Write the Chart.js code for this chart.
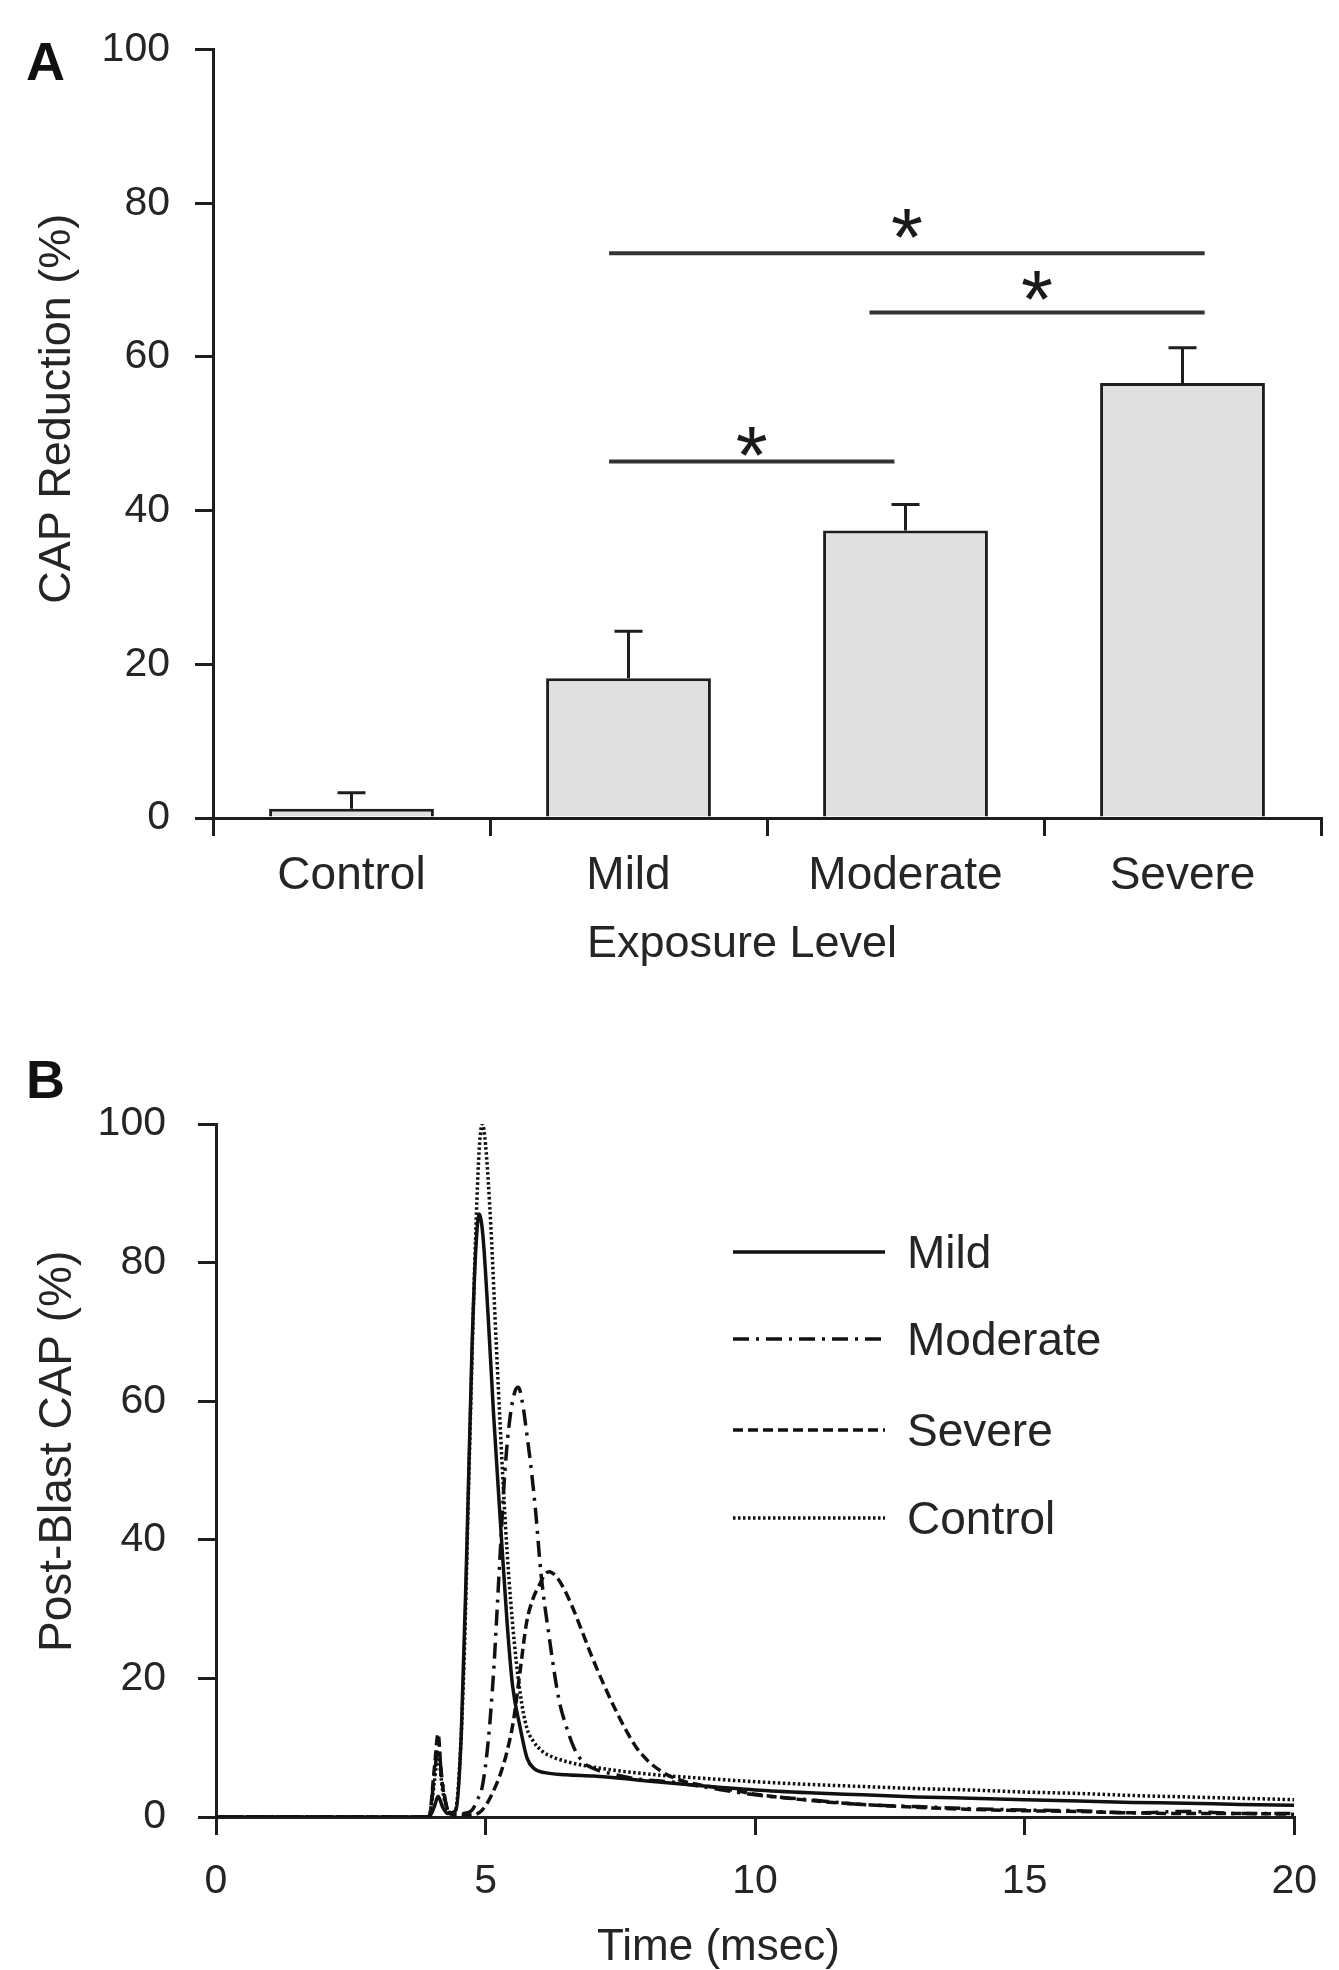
<!DOCTYPE html>
<html>
<head>
<meta charset="utf-8">
<script src="https://cdn.jsdelivr.net/npm/chart.js@4.4.1/dist/chart.umd.min.js"></script>
<style>
  html, body { margin: 0; padding: 0; background: #fff; }
  body { width: 1339px; height: 1970px; position: relative; overflow: hidden; }
  canvas { position: absolute; left: 0; }
  #cA { top: 0; }
  #cB { top: 1000px; }
  .panel { position: absolute; font: bold 54px "Liberation Sans", Arial, sans-serif; color: #111; line-height: 1; }
</style>
</head>
<body>
<div class="panel" style="left:26px; top:34px;">A</div>
<div class="panel" style="left:26px; top:1052px;">B</div>
<canvas id="cA" width="1339" height="1000"></canvas>
<canvas id="cB" width="1339" height="970"></canvas>
<script>
// ---------- Panel A data ----------
const categories = ['Control', 'Mild', 'Moderate', 'Severe'];
const capReduction = [1.2, 18.2, 37.4, 56.6];
const capReductionErr = [2.1, 6.1, 3.4, 4.6];
// significance brackets (category index positions) and heights
const sigFrom = [0.93, 1.87, 0.93];
const sigTo = [3.08, 3.08, 1.96];
const sigLevel = [73.5, 65.8, 46.4];
const sigStarLevel = [77.4, 69.3, 49.0];
const sigLabel = ['*', '*', '*'];

// ---------- Panel B data ----------
const timeMild = [0, 3.95, 4.05, 4.12, 4.2, 4.3, 4.45, 4.55, 4.65, 4.75, 4.82, 4.88, 4.95, 5.05, 5.15, 5.28, 5.4, 5.5, 5.64, 5.77, 5.9, 6.1, 6.5, 7.0, 7.5, 8.0, 9.0, 10, 11, 12, 13, 14, 15, 16, 17, 18, 19, 20];
const capMild  = [0, 0,    1.5,  3,    1.5, 0.5, 1,    12,   38,   68,   82,   87,   84,   72,   58,   42,   28,  19,  13,   8.5,  7,   6.4, 6.1, 5.9, 5.6, 5.2, 4.5, 3.9, 3.5, 3.2, 2.9, 2.7, 2.5, 2.3, 2.1, 2.0, 1.8, 1.7];

const timeModerate = [0, 3.95, 4.05, 4.12, 4.2, 4.3, 4.45, 4.6, 4.75, 4.85, 4.94, 5.05, 5.15, 5.25, 5.36, 5.46, 5.55, 5.61, 5.68, 5.77, 5.85, 5.93, 6.03, 6.18, 6.36, 6.5, 6.64, 6.8, 7.0, 7.3, 7.8, 8.5, 9, 10, 11, 12, 13, 14, 15, 16, 17, 18, 19, 20];
const capModerate  = [0, 0,    6,    10,   5,   1,   0.3,  0.5, 1,    2.5,  4.4,  11,   21,   35,   50,   58,   61.5, 62,   60,   55,   50,   44,   35,   26,   17,   13,  10,   8,   7,   6.3, 5.5, 5,   4.4, 3.2, 2.5, 1.8, 1.5, 1.2, 1.0, 0.9, 0.6, 0.8, 0.5, 0.5];

const timeSevere = [0, 3.95, 4.05, 4.12, 4.18, 4.28, 4.4, 4.7, 4.88, 4.99, 5.1, 5.28, 5.4, 5.52, 5.64, 5.76, 5.88, 6.0, 6.1, 6.18, 6.3, 6.45, 6.6, 6.79, 6.98, 7.2, 7.39, 7.6, 7.8, 8.0, 8.2, 8.42, 8.7, 9, 9.5, 10, 11, 12, 13, 14, 15, 16, 17, 18, 19, 20];
const capSevere  = [0, 0,    7,    12,   6,    1.5,  0.3, 0.3, 0.6,  1.5,  3,   6.3,  9.5, 14,   21,   28,   31.5, 33.5, 35, 35.4, 34.8, 33,   30.5, 26.8, 23,  19,  15.8, 12.6, 10, 8.2, 6.9, 5.9,  5.1, 4.6, 4.0, 3.3, 2.4, 1.8, 1.4, 1.1, 0.9, 0.8, 0.6, 0.5, 0.5, 0.4];

const timeControl = [0, 3.95, 4.05, 4.12, 4.2, 4.3, 4.42, 4.5, 4.6, 4.7, 4.8, 4.88, 4.94, 5.0, 5.1, 5.2, 5.37, 5.5, 5.64, 5.76, 5.88, 6.05, 6.2, 6.5, 7.0, 8.0, 9.0, 10, 11, 12, 13, 14, 15, 16, 17, 18, 19, 20];
const capControl  = [0, 0,    5,    9,    4,   1,   0.5,  5,   22,  52,  80,  96,   100,  97,  85,  68,  42,   28,  18,   13,   11,   9.5,  8.8, 8.0, 7.2, 6.2, 5.6, 5.1, 4.7, 4.4, 4.1, 3.9, 3.6, 3.4, 3.1, 2.9, 2.7, 2.5];

const seriesNames = ['Mild', 'Moderate', 'Severe', 'Control'];

const FONT = '"Liberation Sans", Arial, Helvetica, sans-serif';
const AXIS = '#1e1e1e';
const TEXT = '#252525';

// ---------- Panel A plugin: error bars + significance ----------
const annotA = {
  id: 'annotA',
  afterDatasetsDraw(chart) {
    const ctx = chart.ctx;
    const xs = chart.scales.x, ys = chart.scales.y;
    const meta = chart.getDatasetMeta(0);
    ctx.save();
    ctx.strokeStyle = AXIS;
    ctx.lineWidth = 3;
    ctx.lineCap = 'butt';
    meta.data.forEach((bar, i) => {
      const x = bar.x;
      const y0 = ys.getPixelForValue(capReduction[i]);
      const y1 = ys.getPixelForValue(capReduction[i] + capReductionErr[i]);
      ctx.beginPath();
      ctx.moveTo(x, y0); ctx.lineTo(x, y1);
      ctx.moveTo(x - 14, y1); ctx.lineTo(x + 14, y1);
      ctx.stroke();
    });
    ctx.strokeStyle = '#333';
    ctx.lineWidth = 4;
    ctx.fillStyle = '#1a1a1a';
    ctx.font = '82px ' + FONT;
    ctx.textAlign = 'center';
    ctx.textBaseline = 'alphabetic';
    for (let k = 0; k < sigLevel.length; k++) {
      const xa = xs.getPixelForValue(sigFrom[k]);
      const xb = xs.getPixelForValue(sigTo[k]);
      const y = ys.getPixelForValue(sigLevel[k]);
      ctx.beginPath(); ctx.moveTo(xa, y); ctx.lineTo(xb, y); ctx.stroke();
      const m = ctx.measureText(sigLabel[k]);
      const ys2 = ys.getPixelForValue(sigStarLevel[k]);
      const off = (m.actualBoundingBoxAscent - m.actualBoundingBoxDescent) / 2;
      ctx.fillText(sigLabel[k], (xa + xb) / 2, ys2 + off);
    }
    ctx.restore();
  }
};

new Chart(document.getElementById('cA'), {
  type: 'bar',
  data: {
    labels: categories,
    datasets: [{
      label: 'CAP Reduction (%)',
      data: capReduction,
      backgroundColor: '#e0e0e0',
      borderColor: AXIS,
      borderWidth: 3,
      barPercentage: 0.595,
      categoryPercentage: 1.0
    }]
  },
  options: {
    responsive: false,
    animation: false,
    devicePixelRatio: 1,
    layout: { padding: { top: 48, right: 18, left: 0, bottom: 0 } },
    plugins: { legend: { display: false }, tooltip: { enabled: false } },
    scales: {
      x: {
        type: 'category',
        offset: true,
        grid: { offset: true, drawOnChartArea: false, drawTicks: true, tickLength: 18, color: AXIS, lineWidth: 3 },
        border: { display: true, color: AXIS, width: 3 },
        ticks: { color: TEXT, font: { family: FONT, size: 46 }, padding: 13 },
        title: { display: true, text: 'Exposure Level    ', color: TEXT, font: { family: FONT, size: 45 }, padding: { top: 0, bottom: 28 } },
        afterFit(s) { s.height = 182; }
      },
      y: {
        min: 0, max: 100,
        ticks: { stepSize: 20, color: TEXT, font: { family: FONT, size: 41 }, padding: 25 },
        grid: { drawOnChartArea: false, drawTicks: true, tickLength: 18, color: AXIS, lineWidth: 3 },
        border: { display: true, color: AXIS, width: 3 },
        title: { display: true, text: '    CAP Reduction (%)', color: TEXT, font: { family: FONT, size: 45 }, padding: { top: 31, bottom: 0 } },
        afterFit(s) { s.width = 213; }
      }
    }
  },
  plugins: [annotA]
});

// ---------- Panel B ----------
const legendB = {
  id: 'legendB',
  afterDraw(chart) {
    const ctx = chart.ctx;
    const a = chart.chartArea;
    const x0 = a.left + 517, x1 = a.left + 669, xt = a.left + 691;
    const rows = [a.top + 128, a.top + 215, a.top + 306, a.top + 394];
    ctx.save();
    chart.data.datasets.forEach((ds, i) => {
      const y = rows[i];
      ctx.strokeStyle = ds.borderColor;
      ctx.lineWidth = ds.borderWidth;
      ctx.setLineDash(ds.borderDash || []);
      ctx.beginPath(); ctx.moveTo(x0, y); ctx.lineTo(x1, y); ctx.stroke();
      ctx.setLineDash([]);
      ctx.fillStyle = TEXT;
      ctx.font = '46px ' + FONT;
      ctx.textAlign = 'left';
      ctx.textBaseline = 'middle';
      ctx.fillText(ds.label, xt, y + 3);
    });
    ctx.restore();
  }
};

function pts(t, v) { return t.map((x, i) => ({ x: x, y: v[i] })); }
const lineCommon = { showLine: true, pointRadius: 0, borderColor: '#111', borderWidth: 3.5, fill: false, tension: 0.35, cubicInterpolationMode: 'monotone' };

new Chart(document.getElementById('cB'), {
  type: 'scatter',
  data: {
    datasets: [
      Object.assign({ label: seriesNames[0], data: pts(timeMild, capMild), borderDash: [] }, lineCommon),
      Object.assign({ label: seriesNames[1], data: pts(timeModerate, capModerate), borderDash: [16, 7, 3, 7] }, lineCommon),
      Object.assign({ label: seriesNames[2], data: pts(timeSevere, capSevere), borderDash: [10, 5] }, lineCommon),
      Object.assign({ label: seriesNames[3], data: pts(timeControl, capControl), borderDash: [2.5, 2.5] }, lineCommon)
    ]
  },
  options: {
    responsive: false,
    animation: false,
    devicePixelRatio: 1,
    layout: { padding: { top: 124, right: 22, left: 0, bottom: 0 } },
    plugins: { legend: { display: false }, tooltip: { enabled: false } },
    scales: {
      x: {
        type: 'linear', min: 0, max: 20,
        ticks: { stepSize: 5, color: TEXT, font: { family: FONT, size: 41 }, padding: 22 },
        grid: { drawOnChartArea: false, drawTicks: true, tickLength: 18, color: AXIS, lineWidth: 3 },
        border: { display: true, color: AXIS, width: 3 },
        title: { display: true, text: 'Time (msec)      ', color: TEXT, font: { family: FONT, size: 44, lineHeight: 1 }, padding: { top: 0, bottom: 0 } },
        afterFit(s) { s.height = 153; }
      },
      y: {
        min: 0, max: 100,
        ticks: { stepSize: 20, color: TEXT, font: { family: FONT, size: 41 }, padding: 32 },
        grid: { drawOnChartArea: false, drawTicks: true, tickLength: 18, color: AXIS, lineWidth: 3 },
        border: { display: true, color: AXIS, width: 3 },
        title: { display: true, text: '   Post-Blast CAP (%)', color: TEXT, font: { family: FONT, size: 46 }, padding: { top: 31, bottom: 0 } },
        afterFit(s) { s.width = 216; }
      }
    }
  },
  plugins: [legendB]
});
</script>
</body>
</html>
